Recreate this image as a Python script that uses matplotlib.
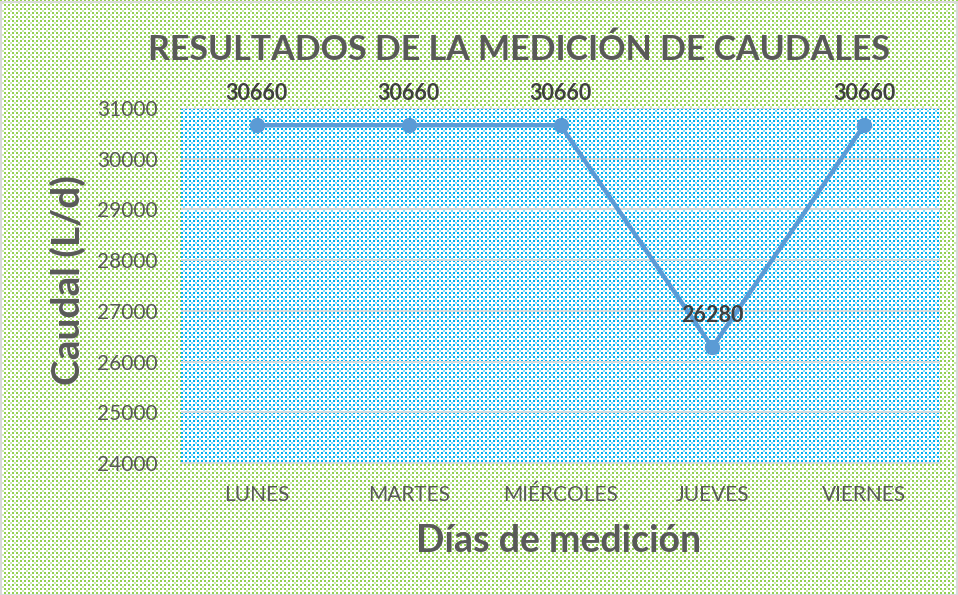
import numpy as np
import matplotlib
matplotlib.use("Agg")
import matplotlib.pyplot as plt
from matplotlib.patches import Rectangle

days = ["LUNES", "MARTES", "MIÉRCOLES", "JUEVES", "VIERNES"]
caudal = [30660, 30660, 30660, 26280, 30660]
yticks = [24000, 25000, 26000, 27000, 28000, 29000, 30000, 31000]

W, H, DPI = 958, 595, 100
FONT = ["Lato", "DejaVu Sans"]
plt.rcParams['font.family'] = FONT

def pattern(h, w, strong, light_mix=0.45):
    strong = np.array(matplotlib.colors.to_rgb(strong))
    white = np.ones(3)
    light = white * (1 - light_mix) + strong * light_mix
    img = np.ones((h, w, 3))
    yy, xx = np.mgrid[0:h, 0:w]
    m_strong = ((yy % 4) < 2) & ((xx % 4) < 2)
    m_light = ((yy % 4) >= 2) & ((xx % 4) >= 2) & (((yy // 4 + xx // 4) % 2) == 0)
    img[m_strong] = strong
    img[m_light] = light
    return img

fig = plt.figure(figsize=(W / DPI, H / DPI), dpi=DPI)
fig.figimage(pattern(H, W, "#92D050"), xo=0, yo=0, origin="upper", zorder=-10)

left, right, top, bottom = 181, 940, 108, 463
ax = fig.add_axes([left / W, (H - bottom) / H, (right - left) / W, (bottom - top) / H])
ax.set_zorder(1)
ax.patch.set_visible(False)
ax.imshow(pattern(bottom - top, right - left, "#00B0F0"), extent=[0, 1, 0, 1],
          transform=ax.transAxes, aspect="auto", interpolation="nearest", zorder=0)

x = np.arange(len(days))
ax.plot(x, caudal, color="#5B9BD5", lw=3.2, marker="o", ms=10, zorder=3,
        solid_capstyle="round", solid_joinstyle="round")
for xi, v in zip(x, caudal):
    ax.annotate(f"{v}", (xi, v), xytext=(0, 23), textcoords="offset points",
                ha="center", va="center", fontsize=15.5, fontweight="bold",
                color="#404040", zorder=4, annotation_clip=False)

ax.set_xlim(-0.5, len(days) - 0.5)
ax.set_ylim(24000, 31000)
ax.set_yticks(yticks)
ax.set_xticks(x)
ax.set_xticklabels(days)
ax.grid(axis="y", color="#D9D9D9", lw=1.3, zorder=1)
ax.set_axisbelow(False)
for s in ["left", "right", "top"]:
    ax.spines[s].set_visible(False)
ax.spines["bottom"].set_color("#D9D9D9")
ax.spines["bottom"].set_linewidth(1.3)
ax.spines["bottom"].set_zorder(2)
ax.tick_params(length=0, labelsize=15, labelcolor="#595959")
ax.tick_params(axis="x", pad=16)
ax.tick_params(axis="y", pad=17)

fig.text(519 / W, 1 - 50 / H, "RESULTADOS DE LA MEDICIÓN DE CAUDALES", ha="center", va="center",
         fontsize=24.5, fontweight="bold", color="#595959", zorder=5)
fig.text(68 / W, 1 - 280 / H, "Caudal (L/d)", rotation=90, ha="center", va="center",
         fontsize=28, fontweight="bold", color="#595959", zorder=5)
fig.text(559 / W, 1 - 541 / H, "Días de medición", ha="center", va="center",
         fontsize=27, fontweight="bold", color="#595959", zorder=5)

fig.patches.append(Rectangle((0.5 / W, 0.5 / H), 1 - 2 / W, 1 - 2 / H, transform=fig.transFigure,
                             fill=False, edgecolor="#D9D9D9", lw=1.5, zorder=10))

fig.savefig("out.png", dpi=DPI)
